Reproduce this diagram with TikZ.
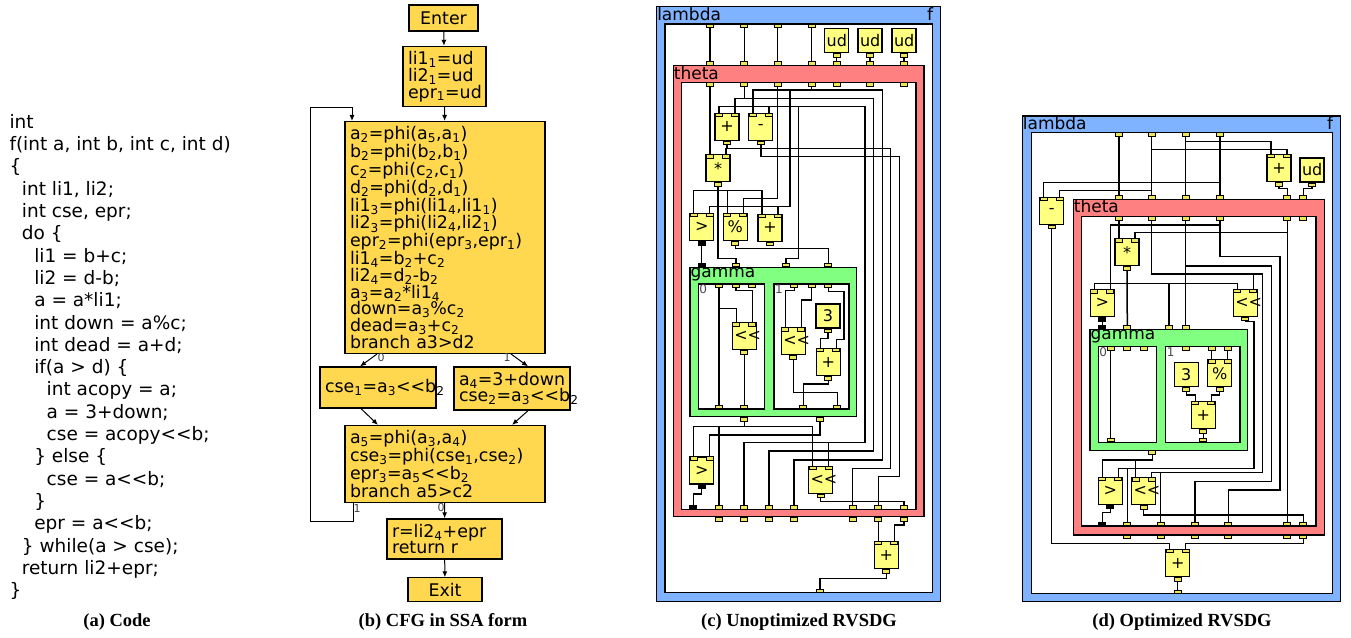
\documentclass[tikz,border=0pt]{standalone}
\usepackage{fontspec}
\newfontfamily\dejavu{DejaVu Sans}
\newfontfamily\capfont{Liberation Serif}
\usetikzlibrary{positioning,arrows.meta,fit}

\definecolor{cfgfill}{RGB}{255,216,80}
\definecolor{opfill}{RGB}{255,255,128}
\definecolor{portfill}{RGB}{240,230,90}
\definecolor{lambdablue}{RGB}{128,179,255}
\definecolor{thetared}{RGB}{255,128,128}
\definecolor{gammagreen}{RGB}{128,255,128}

\newcommand{\idx}[1]{\textsubscript{#1}}
% operation node with two input ports and one output port
\newcommand{\opnode}[5][port]{%
  \node[op] (#2) at (#3,#4) {#5};
  \node[port, anchor=north] (#2-i1) at ([xshift=-8pt]#2.north) {};
  \node[port, anchor=north] (#2-i2) at ([xshift=8pt]#2.north) {};
  \node[#1, anchor=north] (#2-o) at (#2.south) {};
}
% nullary node, output port only
\newcommand{\constnode}[4]{%
  \node[op, minimum height=24pt] (#1) at (#2,#3) {#4};
  \node[port, anchor=north] (#1-o) at (#1.south) {};
}

\begin{document}
\begin{tikzpicture}[x=1pt, y=-1pt,
    % CFG part
    cfgbox/.style={draw, fill=cfgfill, line width=1.2pt, inner sep=5pt, align=left, font=\dejavu\fontsize{17.4}{16.7}\selectfont},
    flow/.style={-{Latex[length=6pt,width=5pt]}, line width=1pt},
    brlabel/.style={font=\dejavu\fontsize{11}{11}\selectfont, inner sep=0pt, text=black!75},
    codeline/.style={anchor=base west, inner sep=0pt, font=\dejavu\fontsize{18.5}{22}\selectfont},
    capt/.style={font=\capfont\bfseries\fontsize{18.5}{19}\selectfont, inner sep=0pt},
    % RVSDG part
    rbox/.style={draw, line width=1.3pt, inner sep=0pt},
    lambdabox/.style={rbox, fill=lambdablue},
    thetabox/.style={rbox, fill=thetared},
    gammabox/.style={rbox, fill=gammagreen},
    hole/.style={rbox, fill=white},
    boxlabel/.style={anchor=north west, inner sep=1pt, font=\dejavu\fontsize{17}{17}\selectfont},
    altlabel/.style={anchor=north west, inner sep=1.5pt, font=\dejavu\fontsize{12}{12}\selectfont, text=black!70},
    op/.style={draw, fill=opfill, line width=1.2pt, minimum width=24pt, minimum height=27pt, text width=20pt, inner sep=2pt, align=center, font=\dejavu\fontsize{16}{16}\selectfont},
    port/.style={draw, fill=portfill, line width=0.7pt, minimum width=7pt, minimum height=3.5pt, inner sep=0pt},
    pred/.style={port, fill=black},
    wire/.style={line width=1.5pt}
]
    \useasboundingbox (0,0) rectangle (1351,637);

    % ---------------- (a) Code ----------------
    \foreach \ind/\txt [count=\i] in {0/int, 0/{f(int a, int b, int c, int d)}, 0/\{,
        1/{int li1, li2;}, 1/{int cse, epr;}, 1/do \{, 2/li1 = b+c;, 2/li2 = d-b;,
        2/a = a*li1;, 2/int down = a\%c;, 2/int dead = a+d;, 2/if(a > d) \{,
        3/int acopy = a;, 3/a = 3+down;, 3/cse = acopy<<b;, 2/\} else \{,
        3/cse = a<<b;, 2/\}, 2/epr = a<<b;, 1/\} while(a > cse);, 1/return li2+epr;, 0/\}}
        \node[codeline] (code-\i) at (9.3+12.4*\ind, 128.3+22.3*\i-22.3) {\txt};

    % ---------------- (b) CFG in SSA form ----------------
    \node[cfgbox, align=center, minimum width=69pt, minimum height=26pt] (enter) at (443.5,18) {Enter};
    \node[cfgbox, text width=73pt, minimum height=57pt] (init) at (444.5,76.5)
        {li1\idx{1}=ud\\li2\idx{1}=ud\\epr\idx{1}=ud};
    \node[cfgbox, text width=190pt, minimum height=225pt] (loop) at (445,237.5) {%
        a\idx{2}=phi(a\idx{5},a\idx{1})\\
        b\idx{2}=phi(b\idx{2},b\idx{1})\\
        c\idx{2}=phi(c\idx{2},c\idx{1})\\
        d\idx{2}=phi(d\idx{2},d\idx{1})\\
        li1\idx{3}=phi(li1\idx{4},li1\idx{1})\\
        li2\idx{3}=phi(li2\idx{4},li2\idx{1})\\
        epr\idx{2}=phi(epr\idx{3},epr\idx{1})\\
        li1\idx{4}=b\idx{2}+c\idx{2}\\
        li2\idx{4}=d\idx{2}-b\idx{2}\\
        a\idx{3}=a\idx{2}*li1\idx{4}\\
        down=a\idx{3}\%c\idx{2}\\
        dead=a\idx{3}+c\idx{2}\\
        branch a3>d2};
    \node[cfgbox, text width=106pt, minimum height=41pt] (elseb) at (378,387.5)
        {cse\idx{1}=a\idx{3}<<b\idx{2}};
    \node[cfgbox, text width=106pt, minimum height=41pt] (thenb) at (512,388.5)
        {a\idx{4}=3+down\\cse\idx{2}=a\idx{3}<<b\idx{2}};
    \node[cfgbox, text width=190pt, minimum height=74pt] (join) at (445,464) {%
        a\idx{5}=phi(a\idx{3},a\idx{4})\\
        cse\idx{3}=phi(cse\idx{1},cse\idx{2})\\
        epr\idx{3}=a\idx{5}<<b\idx{2}\\
        branch a5>c2};
    \node[cfgbox, text width=105pt, minimum height=40pt] (ret) at (444.5,539)
        {r=li2\idx{4}+epr\\return r};
    \node[cfgbox, align=center, minimum width=74pt, minimum height=23pt] (exit) at (445,589.5) {Exit};

    \draw[flow] (enter) -- (init);
    \draw[flow] (init) -- (loop);
    \draw[flow] ([xshift=-68pt]loop.south) -- ([xshift=-18pt]elseb.north);
    \draw[flow] ([xshift=66pt]loop.south) -- ([xshift=16pt]thenb.north);
    \draw[flow] ([xshift=-17pt]elseb.south) -- ([xshift=-67pt]join.north);
    \draw[flow] ([xshift=16pt]thenb.south) -- ([xshift=67pt]join.north);
    \draw[flow] (join) -- (ret);
    \draw[flow] (ret) -- (exit);
    \draw[flow] ([xshift=-92pt]join.south) -- ++(0,18) -| (310,107) -| ([xshift=-93pt]loop.north);

    \node[brlabel] (lab-else) at (381,357) {0};
    \node[brlabel] (lab-then) at (507,357) {1};
    \node[brlabel] (lab-back) at (357,508) {1};
    \node[brlabel] (lab-exit) at (441,507) {0};

    % ---------------- (c) Unoptimized RVSDG ----------------
    \node[lambdabox, fit={(656.7,6.7) (940.7,601.7)}] (cLam) {};
    \node[hole, fit={(665,24) (932.7,592.7)}] (cLamIn) {};
    \node[boxlabel] (cLamT) at (cLam.north west) {lambda};
    \node[boxlabel, anchor=north east] (cLamF) at ([xshift=-7pt]cLam.north east) {f};

    \node[thetabox, fit={(673.3,65.7) (924,516.7)}] (cTh) {};
    \node[hole, fit={(681.7,82.3) (916,509.3)}] (cThIn) {};
    \node[boxlabel] (cThT) at (cTh.north west) {theta};

    \node[gammabox, fit={(690,267.3) (856.7,416.7)}] (cGa) {};
    \node[boxlabel] (cGaT) at (cGa.north west) {gamma};
    \node[hole, fit={(698.3,284) (764.3,409)}] (cG0) {};
    \node[hole, fit={(774,284) (849,409)}] (cG1) {};
    \node[altlabel] (cG0T) at (cG0.north west) {0};
    \node[altlabel] (cG1T) at (cG1.north west) {1};

    \constnode{cud1}{836.7}{40.7}{ud}
    \constnode{cud2}{870}{40.7}{ud}
    \constnode{cud3}{904}{40.7}{ud}

    \foreach \x [count=\i] in {710,744.3,777.7,811.7}
        \node[port] (cL\i) at (\x,25.7) {};
    \foreach \x [count=\i] in {710,744.3,777.7,811.7,836.7,870,904} {
        \node[port] (cTi\i) at (\x,63.3) {};
        \node[port] (cTa\i) at (\x,84.5) {};
    }
    \node[pred] (cTr0) at (693.3,507.3) {};
    \foreach \x [count=\i] in {719,744,769,794,852.7,878.3,904} {
        \node[port] (cTr\i) at (\x,507.3) {};
        \node[port] (cTo\i) at (\x,519.5) {};
    }
    \node[pred] (cGi0) at (701.7,265) {};
    \foreach \x [count=\i] in {736,786,828.3}
        \node[port] (cGi\i) at (\x,265) {};
    \foreach \x [count=\i] in {719,736,752.3}
        \node[port] (cG0a\i) at (\x,286) {};
    \foreach \x [count=\i] in {794.3,811.7,828.3}
        \node[port] (cG1a\i) at (\x,286) {};
    \node[port] (cG0r1) at (719,406.7) {};
    \node[port] (cG0r2) at (744.3,406.7) {};
    \node[port] (cG1r1) at (803.3,406.7) {};
    \node[port] (cG1r2) at (837.3,406.7) {};
    \node[port] (cGo1) at (744.3,419.5) {};
    \node[port] (cGo2) at (820,419.5) {};
    \node[port] (cLr) at (820,590.7) {};

    \opnode{cadd}{727}{126.7}{+}
    \opnode{csub}{760.8}{126.7}{-}
    \opnode{cmul}{718}{168.3}{*}
    \opnode[pred]{cgt}{701.7}{227}{>}
    \opnode{cmod}{735.3}{227}{\%}
    \opnode{cdead}{770}{227.8}{+}
    \opnode{cshlA}{744.3}{336.3}{<<}
    \opnode{cshlB}{793.3}{341.2}{<<}
    \constnode{cthree}{828}{316}{3}
    \opnode{caddB}{828.3}{362}{+}
    \opnode[pred]{cgtB}{701.7}{470.5}{>}
    \opnode{cshlC}{820.5}{479.7}{<<}
    \opnode{cret}{886.3}{555}{+}

    % into theta
    \foreach \i in {1,...,4}
        \draw[wire] (cL\i.south) -- (cTi\i.north);
    \draw[wire] (cud1-o.south) -- (cTi5.north);
    \draw[wire] (cud2-o.south) -- (cTi6.north);
    \draw[wire] (cud3-o.south) -- (cTi7.north);
    % loop body
    \draw[wire] (cTa1.south) -- (cmul-i1.north);
    \draw[wire] (cTa2.south) -- (cTa2 |- 0,98.3);
    \draw[wire] (cadd-i2.north) |- (873.3,98.3) -- (873.3,451) -| (cTr3.north);
    \draw[wire] (cTa3.south) |- (cmod-i2 |- 0,198.3) -- (cmod-i2.north);
    \draw[wire] (cadd-i1.north) |- (865,106.7) -- (865,442.7) -| (cTr2.north);
    \draw[wire] (csub-i2.north) -- (csub-i2 |- 0,106.7);
    \draw[wire] (798.3,106.7) |- (cGi2 |- 0,258.3) -- (cGi2.north);
    \draw[wire] (cshlC-i2.north) -- (cshlC-i2 |- 0,442.7);
    \draw[wire] (cTa4.south) -- (cTa4 |- 0,90);
    \draw[wire] (csub-i1.north) |- (882.3,90) -- (882.3,460) -| (cTr4.north);
    \draw[wire] (790,90) |- (cgt-i2 |- 0,206.7) -- (cgt-i2.north);
    \draw[wire] (cdead-i2.north) -- (cdead-i2 |- 0,206.7);
    \draw[wire] (cadd-o.south) |- (890.7,148.3) -- (890.7,468.3) -| (cTr5.north);
    \draw[wire] (cmul-i2.north) -- (cmul-i2 |- 0,148.3);
    \draw[wire] (csub-o.south) |- (899.3,156.7) -- (899.3,476.7) -| (cTr6.north);
    \draw[wire] (cgt-i1.north) |- (cdead-i1 |- 0,190.7) -- (cdead-i1.north);
    \draw[wire] (cmod-i1.north) -- (cmod-i1 |- 0,190.7);
    \draw[wire] (cmul-o.south) |- (cGi1 |- 0,258.3) -- (cGi1.north);
    \draw[wire] (cmod-o.south) |- (cGi3 |- 0,248.3) -- (cGi3.north);
    \draw[wire] (cgt-o.south) -- (cGi0.north);
    % gamma regions
    \draw[wire] (cG0a1.south) -- (cG0r1.north);
    \draw[wire] (cshlA-i1.north) |- (cG0a1 |- 0,308.3);
    \draw[wire] (cG0a2.south) |- (cshlA-i2 |- 0,290.7) -- (cshlA-i2.north);
    \draw[wire] (cshlA-o.south) -- (cG0r2.north);
    \draw[wire] (cG1a1.south) |- (cshlB-i1 |- 0,290.7) -- (cshlB-i1.north);
    \draw[wire] (cG1a2.south) |- (cshlB-i2 |- 0,300) -- (cshlB-i2.north);
    \draw[wire] (cG1a3.south) |- (844,291.7) |- (caddB-i2 |- 0,339.3) -- (caddB-i2.north);
    \draw[wire] (cthree-o.south) |- (caddB-i1 |- 0,338.3) -- (caddB-i1.north);
    \draw[wire] (caddB-o.south) |- (cG1r1 |- 0,384) -- (cG1r1.north);
    \draw[wire] (cshlB-o.south) |- (cG1r2 |- 0,392.7) -- (cG1r2.north);
    % after gamma
    \draw[wire] (cgtB-i1.north) |- (cshlC-i1 |- 0,426.7) -- (cshlC-i1.north);
    \draw[wire] (cGo1.south) -- (cGo1 |- 0,426.7);
    \draw[wire] (cTr1.north) -- (cTr1 |- 0,426.7);
    \draw[wire] (cGo2.south) |- (cgtB-i2 |- 0,435) -- (cgtB-i2.north);
    \draw[wire] (cgtB-o.south) |- (cTr0 |- 0,494) -- (cTr0.north);
    \draw[wire] (cshlC-o.south) |- (cTr7 |- 0,501.7) -- (cTr7.north);
    % out of theta
    \draw[wire] (cTo6.south) -- (cret-i1.north);
    \draw[wire] (cTo7.south) |- (cret-i2 |- 0,525) -- (cret-i2.north);
    \draw[wire] (cret-o.south) |- (cLr |- 0,578.3) -- (cLr.north);

    % ---------------- (d) Optimized RVSDG ----------------
    \node[lambdabox, fit={(1022.3,116) (1340.7,601.7)}] (dLam) {};
    \node[hole, fit={(1031.7,132.7) (1332.3,593.3)}] (dLamIn) {};
    \node[boxlabel] (dLamT) at (dLam.north west) {lambda};
    \node[boxlabel, anchor=north east] (dLamF) at ([xshift=-7pt]dLam.north east) {f};

    \node[thetabox, fit={(1073.3,199.3) (1324.3,535)}] (dTh) {};
    \node[hole, fit={(1081.7,216.7) (1316,526)}] (dThIn) {};
    \node[boxlabel] (dThT) at (dTh.north west) {theta};

    \node[gammabox, fit={(1090,329.3) (1247.3,450.7)}] (dGa) {};
    \node[boxlabel] (dGaT) at (dGa.north west) {gamma};
    \node[hole, fit={(1098.3,346.7) (1156.7,442.3)}] (dG0) {};
    \node[hole, fit={(1165.7,346.7) (1240,442.3)}] (dG1) {};
    \node[altlabel] (dG0T) at (dG0.north west) {0};
    \node[altlabel] (dG1T) at (dG1.north west) {1};

    \foreach \x [count=\i] in {1119,1151.7,1185.7,1220}
        \node[port] (dL\i) at (\x,134.3) {};
    \foreach \x [count=\i] in {1119,1151.7,1185.7,1220,1287.3,1303.3} {
        \node[port] (dTi\i) at (\x,197.5) {};
        \node[port] (dTa\i) at (\x,218.5) {};
    }
    \node[pred] (dTr0) at (1102.3,524) {};
    \foreach \x [count=\i] in {1127.3,1160.7,1195,1228.3,1287.3,1303.3} {
        \node[port] (dTr\i) at (\x,524) {};
        \node[port] (dTo\i) at (\x,536.7) {};
    }
    \node[pred] (dGi0) at (1102.3,327.3) {};
    \foreach \x [count=\i] in {1127.3,1169,1185.7}
        \node[port] (dGi\i) at (\x,327.3) {};
    \foreach \x [count=\i] in {1110.7,1127.3,1144}
        \node[port] (dG0a\i) at (\x,348.5) {};
    \foreach \x [count=\i] in {1185.7,1211.7,1227.7}
        \node[port] (dG1a\i) at (\x,348.5) {};
    \node[port] (dG0r) at (1110.7,440) {};
    \node[port] (dG1r) at (1203.3,440) {};
    \node[port] (dGo) at (1152.3,452.5) {};
    \node[port] (dLr) at (1177.7,591.7) {};

    \opnode{dadd}{1279}{168}{+}
    \constnode{dud}{1312}{170}{ud}
    \opnode{dsub}{1051.7}{210.8}{-}
    \opnode{dmul}{1127}{252.2}{*}
    \opnode[pred]{dgt}{1102.3}{303.3}{>}
    \opnode{dshl}{1245.3}{302.7}{<<}
    \constnode{dthree}{1186.3}{374.7}{3}
    \opnode{dmod}{1219.7}{373.3}{\%}
    \opnode{daddG}{1203.3}{415}{+}
    \opnode[pred]{dgtB}{1110.3}{490.8}{>}
    \opnode{dshlB}{1143.5}{491.3}{<<}
    \opnode{dret}{1177.7}{563}{+}

    % hoisted out of the loop
    \foreach \i in {1,...,4}
        \draw[wire] (dL\i.south) -- (dTi\i.north);
    \draw[wire] (dadd-i2.north) |- (dL2 |- 0,149.3);
    \draw[wire] (dadd-i1.north) |- (dL3 |- 0,141.7);
    \draw[wire] (dsub-i1.north) |- (dL4 |- 0,182.7);
    \draw[wire] (dsub-i2.north) |- (dL2 |- 0,190.7);
    \draw[wire] (dadd-o.south) |- (dTi5 |- 0,188.3) -- (dTi5.north);
    \draw[wire] (dud-o.south) |- (dTi6 |- 0,188.3) -- (dTi6.north);
    \draw[wire] (dsub-o.south) |- (dret-i1 |- 0,543.3) -- (dret-i1.north);
    \draw[wire] (dTo6.south) |- (dret-i2 |- 0,543.3) -- (dret-i2.north);
    \draw[wire] (dret-o.south) -- (dLr.north);
    % loop body
    \draw[wire] (dTa1.south) -- (dmul-i1.north);
    \draw[wire] (dTa2.south) |- (1262.3,274) -- (1262.3,472.7) -| (dshlB-i2.north);
    \draw[wire] (dshl-i2.north) -- (dshl-i2 |- 0,274);
    \draw[wire] (dTr2.north) -- (dTr2 |- 0,472.7);
    \draw[wire] (dTa3.south) -- (dGi3.north);
    \draw[wire] (dTa3 |- 0,266) -| (1271.7,481.7) -| (dTr3.north);
    \draw[wire] (dgt-i2.north) |- (dTa4 |- 0,225);
    \draw[wire] (dTa4.south) |- (1280,256.7) -- (1280,490) -| (dTr4.north);
    \draw[wire] (dTa5.south) -- (dTr5.north);
    \draw[wire] (dmul-i2.north) |- (dTa5 |- 0,232.7);
    \draw[wire] (dmul-o.south) -- (dGi1.north);
    \draw[wire] (dgt-i1.north) |- (dshl-i1 |- 0,283.3) -- (dshl-i1.north);
    \draw[wire] (dGi2.north) -- (dGi2 |- 0,283.3);
    \draw[wire] (dgt-o.south) -- (dGi0.north);
    \draw[wire] (dshl-o.south) |- (1254,321.7) -- (1254,468.3) -| (dgtB-i2.north);
    \draw[wire] (dTr1.north) -- (dTr1 |- 0,468.3);
    \draw[wire] (dGo.south) |- (dgtB-i1 |- 0,460) -- (dgtB-i1.north);
    \draw[wire] (dshlB-i1.north) -- (dshlB-i1 |- 0,460);
    \draw[wire] (dgtB-o.south) |- (dTr0 |- 0,512.7) -- (dTr0.north);
    \draw[wire] (dshlB-o.south) |- (dTr6 |- 0,515) -- (dTr6.north);
    % gamma regions
    \draw[wire] (dG0a1.south) -- (dG0r.north);
    \draw[wire] (dG1a2.south) -- (dmod-i1.north);
    \draw[wire] (dG1a3.south) -- (dmod-i2.north);
    \draw[wire] (dthree-o.south) |- (daddG-i1 |- 0,395) -- (daddG-i1.north);
    \draw[wire] (dmod-o.south) |- (daddG-i2 |- 0,395) -- (daddG-i2.north);
    \draw[wire] (daddG-o.south) -- (dG1r.north);

    % ---------------- captions ----------------
    \node[capt] (capA) at (117,622) {(a) Code};
    \node[capt] (capB) at (443,622) {(b) CFG in SSA form};
    \node[capt] (capC) at (799,622) {(c) Unoptimized RVSDG};
    \node[capt] (capD) at (1182,622) {(d) Optimized RVSDG};
\end{tikzpicture}
\end{document}
